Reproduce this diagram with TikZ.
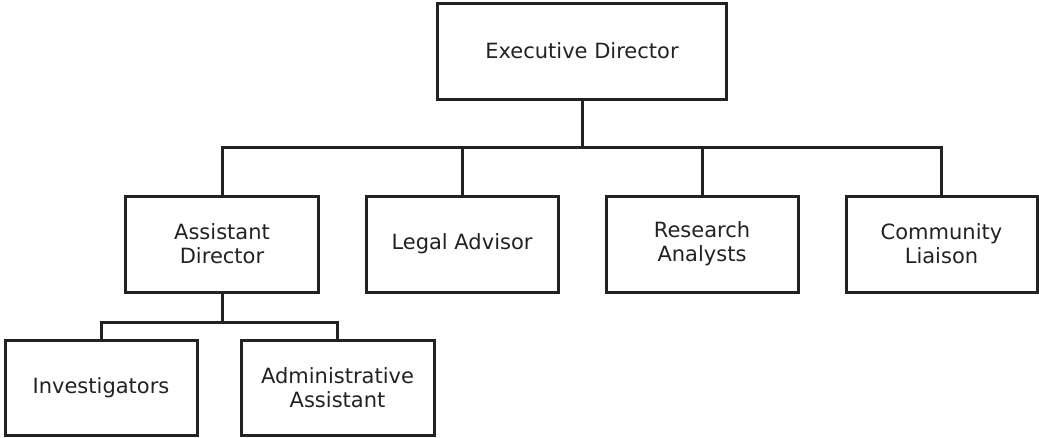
\documentclass[tikz,border=0pt]{standalone}
\usepackage{fontspec}
\setmainfont{DejaVu Sans}
\definecolor{ink}{HTML}{222222}
\begin{document}
\begin{tikzpicture}[x=1pt,y=-1pt,
  box/.style={draw=ink, line width=3pt, text=ink, align=center, inner sep=0pt,
    font=\fontsize{21}{24}\selectfont, minimum height=96pt},
  link/.style={draw=ink, line width=3pt}]
\useasboundingbox (0,0) rectangle (1039,437);
\node[box, minimum width=289pt] (exec) at (582,51) {Executive Director};
\node[box, minimum width=193pt] (asst) at (222,244) {Assistant\\Director};
\node[box, minimum width=192pt] (legal) at (462,244) {Legal Advisor};
\node[box, minimum width=192pt] (research) at (702,244) {Research\\Analysts};
\node[box, minimum width=191pt] (community) at (941.5,244) {Community\\Liaison};
\node[box, minimum width=192pt, minimum height=95pt] (inv) at (101,387.5) {Investigators};
\node[box, minimum width=193pt, minimum height=95pt] (admin) at (337.5,387.5) {Administrative\\Assistant};
\coordinate (j1) at (582,147);
\coordinate (j2) at (222,322);
\draw[link] (exec.south) -- (j1);
\draw[link] (asst.north) |- (j1) -| (community.north);
\draw[link] (legal.north) -- (legal.north |- j1);
\draw[link] (research.north) -- (research.north |- j1);
\draw[link] (asst.south) -- (j2);
\draw[link] (inv.north) |- (j2) -| (admin.north);
\end{tikzpicture}
\end{document}
